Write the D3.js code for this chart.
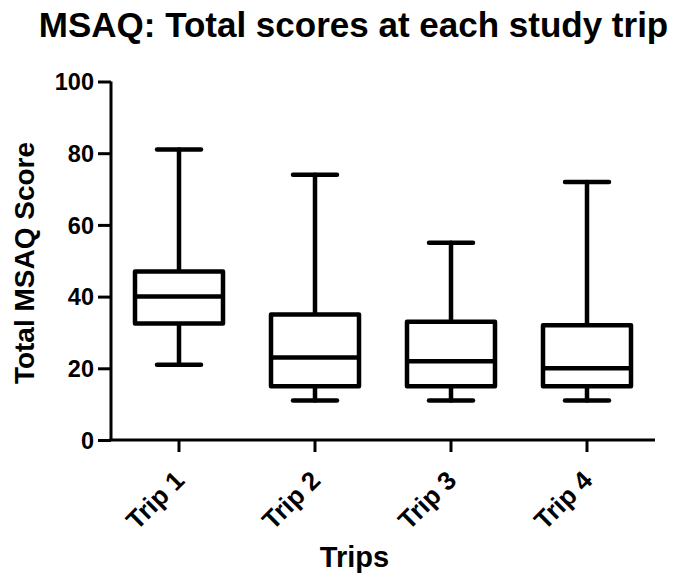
<!DOCTYPE html>
<html><head><meta charset="utf-8">
<script src="https://cdn.jsdelivr.net/npm/d3@7"></script>
<style>body{margin:0;background:#fff}text{font-family:"Liberation Sans",Arial,sans-serif;font-weight:bold;fill:#000}</style>
</head><body><svg id="c" width="673" height="573"></svg>
<script>
const categories = ["Trip 1","Trip 2","Trip 3","Trip 4"];
const whiskerLow = [21, 11, 11, 11];
const q1 = [32.5, 15, 15, 15];
const median = [40, 23, 22, 20];
const q3 = [47, 35, 33, 32];
const whiskerHigh = [81, 74, 55, 72];
const yTicks = [0, 20, 40, 60, 80, 100];

const svg = d3.select("#c");
const x = d3.scaleBand().domain(categories).range([111, 655]).padding(0);
const y = d3.scaleLinear().domain([0, 100]).range([440, 81.5]);
const lw = 4.5;

// y axis
const ya = svg.append("g").attr("transform","translate(111,0)")
  .call(d3.axisLeft(y).tickValues(yTicks).tickSize(13).tickPadding(4));
ya.select(".domain").attr("stroke-width",3).attr("d","M0,"+y(100)+"V"+y(0));
ya.selectAll(".tick line").attr("stroke-width",3);
ya.selectAll(".tick text").style("font-size","23.5px").attr("dy","0.35em");

// x axis
const xa = svg.append("g").attr("transform","translate(0,440)")
  .call(d3.axisBottom(x).tickSize(12).tickSizeOuter(0));
xa.select(".domain").attr("stroke-width",3).attr("d","M109.5,0H655");
xa.selectAll(".tick line").attr("stroke-width",3);
xa.selectAll(".tick text").style("font-size","26px")
  .attr("text-anchor","end").attr("dy","0").attr("y",0)
  .attr("transform","translate(7,42) rotate(-45)");

// boxes
const data = categories.map((c,i)=>({c,lo:whiskerLow[i],q1:q1[i],med:median[i],q3:q3[i],hi:whiskerHigh[i]}));
const boxW = 88, capW = 44;
const g = svg.append("g").selectAll("g").data(data).join("g")
  .attr("transform",d=>`translate(${x(d.c)+x.bandwidth()/2},0)`);
const st = s=>s.attr("stroke","#000").attr("stroke-width",lw).attr("fill","none").attr("stroke-linecap","round");
st(g.append("line").attr("x1",0).attr("x2",0).attr("y1",d=>y(d.hi)).attr("y2",d=>y(d.q3)));
st(g.append("line").attr("x1",0).attr("x2",0).attr("y1",d=>y(d.q1)).attr("y2",d=>y(d.lo)));
st(g.append("line").attr("x1",-capW/2).attr("x2",capW/2).attr("y1",d=>y(d.hi)).attr("y2",d=>y(d.hi)));
st(g.append("line").attr("x1",-capW/2).attr("x2",capW/2).attr("y1",d=>y(d.lo)).attr("y2",d=>y(d.lo)));
st(g.append("rect").attr("x",-boxW/2).attr("width",boxW).attr("y",d=>y(d.q3)).attr("height",d=>y(d.q1)-y(d.q3))).attr("stroke-linejoin","round").attr("fill","#fff");
st(g.append("line").attr("x1",-boxW/2).attr("x2",boxW/2).attr("y1",d=>y(d.med)).attr("y2",d=>y(d.med))).attr("stroke-linecap","butt");

// titles
svg.append("text").attr("x",353.5).attr("y",37).attr("text-anchor","middle").style("font-size","35px")
  .text("MSAQ: Total scores at each study trip");
svg.append("text").attr("transform","translate(33.5,263) rotate(-90)").attr("text-anchor","middle").style("font-size","28px")
  .text("Total MSAQ Score");
svg.append("text").attr("x",354.5).attr("y",567).attr("text-anchor","middle").style("font-size","29px")
  .text("Trips");
</script></body></html>
